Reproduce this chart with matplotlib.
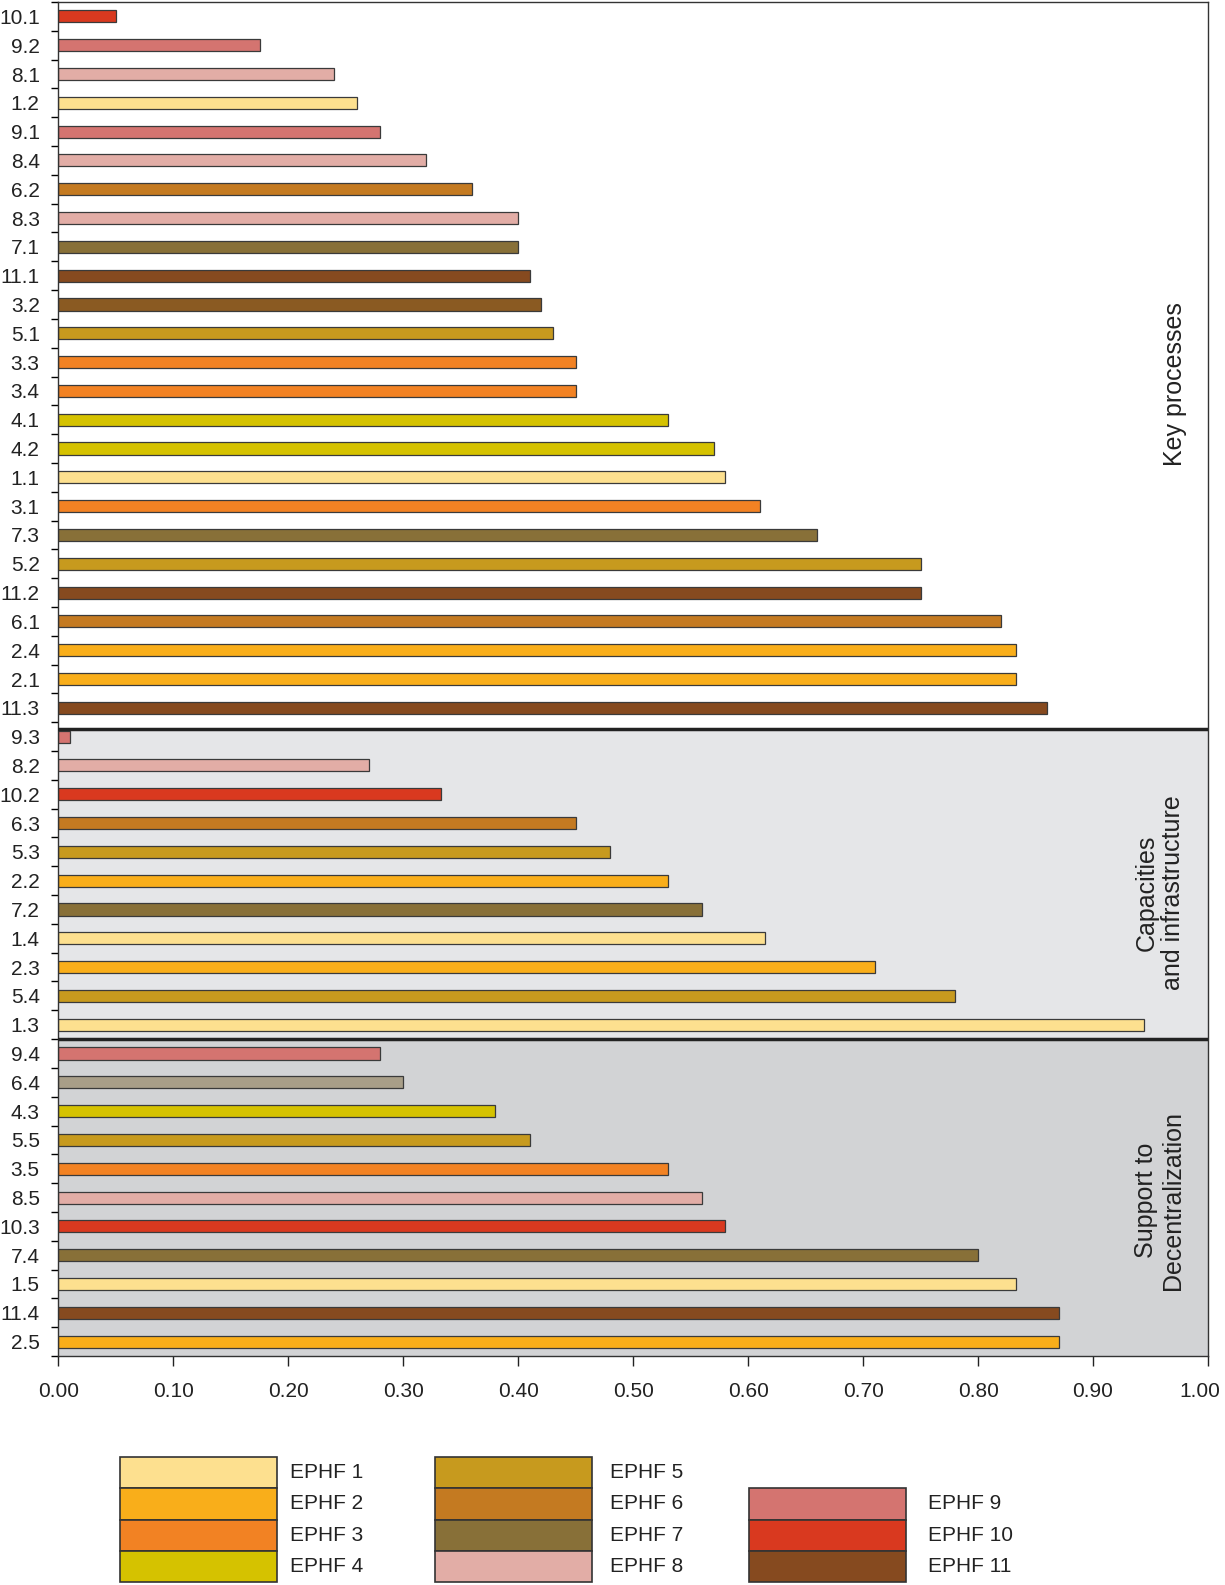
import numpy as np
import matplotlib
matplotlib.use("Agg")
import matplotlib.pyplot as plt
from matplotlib.patches import Rectangle
from matplotlib.transforms import ScaledTranslation

plt.rcParams["font.family"] = ["Liberation Sans", "DejaVu Sans"]

# data, top to bottom
key_labels = ["10.1", "9.2", "8.1", "1.2", "9.1", "8.4", "6.2", "8.3", "7.1", "11.1",
              "3.2", "5.1", "3.3", "3.4", "4.1", "4.2", "1.1", "3.1", "7.3", "5.2",
              "11.2", "6.1", "2.4", "2.1", "11.3"]
key_values = [0.05, 0.175, 0.24, 0.26, 0.28, 0.32, 0.36, 0.40, 0.40, 0.41,
              0.42, 0.43, 0.45, 0.45, 0.53, 0.57, 0.58, 0.61, 0.66, 0.75,
              0.75, 0.82, 0.833, 0.833, 0.86]

cap_labels = ["9.3", "8.2", "10.2", "6.3", "5.3", "2.2", "7.2", "1.4", "2.3", "5.4", "1.3"]
cap_values = [0.01, 0.27, 0.333, 0.45, 0.48, 0.53, 0.56, 0.615, 0.71, 0.78, 0.944]

sup_labels = ["9.4", "6.4", "4.3", "5.5", "3.5", "8.5", "10.3", "7.4", "1.5", "11.4", "2.5"]
sup_values = [0.28, 0.30, 0.38, 0.41, 0.53, 0.56, 0.58, 0.80, 0.833, 0.87, 0.87]

section_names = ["Key processes", "Capacities\nand infrastructure", "Support to\nDecentralization"]

ephf_names = ["EPHF %d" % i for i in range(1, 12)]
ephf_colors = ["#fde08f", "#f9ae1a", "#f28223", "#d5c200", "#c79a1e", "#c47a21",
               "#887038", "#e2ada6", "#d47470", "#d9391f", "#864a1f"]
# a couple of bars are drawn in off-legend shades in the original
special_colors = {"6.4": "#a89e88", "3.2": "#8a5a22"}

labels = key_labels + cap_labels + sup_labels
values = key_values + cap_values + sup_values
n = len(labels)
y = np.arange(n)
colors = [special_colors.get(l, ephf_colors[int(l.split(".")[0]) - 1]) for l in labels]

fig = plt.figure(figsize=(12.25, 15.85), dpi=100)
ax = fig.add_axes([58.5 / 1225, 1 - 1356 / 1585, (1208 - 58.5) / 1225, (1356 - 2) / 1585])

b1 = len(key_labels) - 0.5 + 0.22  # first divider sits a bit low in the original
b2 = len(key_labels) + len(cap_labels) - 0.5
ax.axhspan(b1, b2, color="#e5e6e8", zorder=0)
ax.axhspan(b2, n - 0.5, color="#d2d3d5", zorder=0)
ax.axhline(b1, color="#222222", lw=2.5, zorder=3)
ax.axhline(b2, color="#222222", lw=2.5, zorder=3)

ax.barh(y, values, height=0.42, color=colors, edgecolor="#3a3a3a", linewidth=0.9, zorder=2)

ax.set_xlim(0, 1.0)
ax.set_ylim(n - 0.5, -0.5)
ax.set_xticks(np.arange(0, 1.01, 0.1))
ax.set_xticklabels(["%.2f" % v for v in np.arange(0, 1.01, 0.1)])
ax.set_yticks(y)
ax.set_yticklabels(labels)
ax.set_yticks(np.arange(-0.5, n, 1.0), minor=True)
ax.tick_params(axis="y", which="major", length=0, pad=13.5, labelsize=15, colors="#222222")
ax.tick_params(axis="y", which="minor", length=5, width=1, direction="out")
ax.tick_params(axis="x", which="major", length=7, width=1, direction="out", pad=12,
               labelsize=15, colors="#222222")
last = ax.get_xticklabels()[-1]
last.set_transform(last.get_transform() + ScaledTranslation(-0.08, 0, fig.dpi_scale_trans))
for s in ax.spines.values():
    s.set_color("#333333")
    s.set_linewidth(1.0)

# section labels
ax.text(0.971, (-0.5 + b1) / 2 + 0.66, section_names[0], rotation=90, ha="center", va="center",
        fontsize=18, color="#222222")
ax.text(0.958, (b1 + b2) / 2 + 0.3, section_names[1], rotation=90, ha="center", va="center",
        fontsize=18, color="#222222", linespacing=1.15)
ax.text(0.958, (b2 + n - 0.5) / 2 + 0.1, section_names[2], rotation=90, ha="center", va="center",
        fontsize=18, color="#222222", linespacing=1.15)

# legend drawn in pixel coordinates
lg = fig.add_axes([0, 0, 1, 1], zorder=-1)
lg.set_xlim(0, 1225)
lg.set_ylim(1585, 0)
lg.axis("off")
col_x = [119.5, 434.5, 749]
txt_x = [290, 609.5, 928]
row_h = 31.3
top = 1457
for i, (name, c) in enumerate(zip(ephf_names, ephf_colors)):
    col = i // 4
    row = i % 4 + (1 if col == 2 else 0)
    y0 = top + row * row_h
    lg.add_patch(Rectangle((col_x[col], y0), 157, row_h, facecolor=c,
                           edgecolor="#333333", linewidth=1.2))
    lg.text(txt_x[col], y0 + row_h / 2, name, ha="left", va="center",
            fontsize=15, color="#222222")

fig.savefig("out.png", dpi=100)
